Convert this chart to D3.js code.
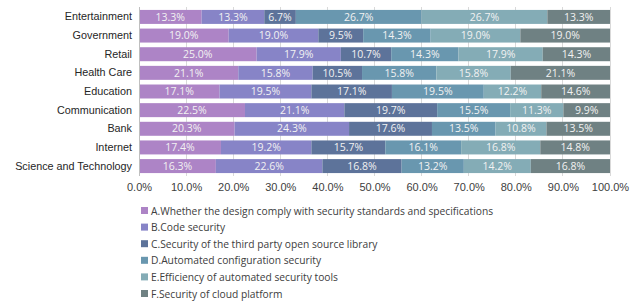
<!DOCTYPE html>
<html><head><meta charset="utf-8">
<script src="https://cdn.jsdelivr.net/npm/d3@7"></script>
<style>body{margin:0;background:#fff}svg{display:block;font-family:"Open Sans","Noto Sans",sans-serif}</style>
</head><body><svg id="c" width="635" height="304"></svg>
<script>
const categories = ["Entertainment","Government","Retail","Health Care","Education","Communication","Bank","Internet","Science and Technology"];
const seriesNames = ["A.Whether the design comply with security standards and specifications","B.Code security","C.Security of the third party open source library","D.Automated configuration security","E.Efficiency of automated security tools","F.Security of cloud platform"];
const seriesA = [13.3,19.0,25.0,21.1,17.1,22.5,20.3,17.4,16.3];
const seriesB = [13.3,19.0,17.9,15.8,19.5,21.1,24.3,19.2,22.6];
const seriesC = [6.7,9.5,10.7,10.5,17.1,19.7,17.6,15.7,16.8];
const seriesD = [26.7,14.3,14.3,15.8,19.5,15.5,13.5,16.1,13.2];
const seriesE = [26.7,19.0,17.9,15.8,12.2,11.3,10.8,16.8,14.2];
const seriesF = [13.3,19.0,14.3,21.1,14.6,9.9,13.5,14.8,16.8];
const tickValues = [0,0.1,0.2,0.3,0.4,0.5,0.6,0.7,0.8,0.9,1.0];
const colors = ["#ad84c6","#8784c7","#5d739a","#6997af","#84acb6","#6f8183"];

const allSeries = [seriesA,seriesB,seriesC,seriesD,seriesE,seriesF];
const keys = ["A","B","C","D","E","F"];
const rows = categories.map((c,i)=>{const o={cat:c};keys.forEach((k,j)=>o[k]=allSeries[j][i]);return o;});
const stacked = d3.stack().keys(keys).offset(d3.stackOffsetExpand)(rows);

const svg = d3.select("#c");
const x = d3.scaleLinear().domain([0,1]).range([139,610]);
const y = d3.scaleBand().domain(categories).range([7.6,175.4]).paddingInner(0.25).paddingOuter(0.125);

svg.append("g").selectAll("line").data(tickValues.slice(1)).join("line")
  .attr("x1",d=>x(d)).attr("x2",d=>x(d)).attr("y1",7).attr("y2",176)
  .attr("stroke","#d9d9d9").attr("stroke-width",1).attr("shape-rendering","crispEdges");

const g = svg.append("g");
stacked.forEach((s,si)=>{
  g.append("g").attr("fill",colors[si]).selectAll("rect").data(s).join("rect")
    .attr("x",d=>x(d[0])).attr("width",d=>x(d[1])-x(d[0]))
    .attr("y",d=>y(d.data.cat)).attr("height",y.bandwidth());
  g.append("g").selectAll("text").data(s).join("text")
    .attr("x",d=>(x(d[0])+x(d[1]))/2).attr("y",d=>y(d.data.cat)+y.bandwidth()/2)
    .attr("dy","0.35em").attr("text-anchor","middle").attr("fill","#f2f2f2")
    .attr("font-size","10.5px")
    .text((d,i)=>allSeries[si][i].toFixed(1)+"%");
});

svg.append("line").attr("x1",139).attr("x2",139).attr("y1",7).attr("y2",176)
  .attr("stroke","#bfbfbf").attr("shape-rendering","crispEdges");

const yAxis = d3.axisLeft(y).tickSize(0).tickPadding(7);
const ya = svg.append("g").attr("transform","translate(139,0)").call(yAxis);
ya.select(".domain").remove();
ya.selectAll("text").attr("font-size","10.8px").attr("fill","#262626").attr("font-family",null);

const xAxis = d3.axisBottom(x).tickValues(tickValues).tickSize(0).tickPadding(0).tickFormat(d3.format(".1%"));
const xa = svg.append("g").attr("transform","translate(0,183)").call(xAxis);
xa.select(".domain").remove();
xa.selectAll("text").attr("font-size","11px").attr("fill","#404040").attr("font-family",null);

const leg = svg.append("g").selectAll("g").data(seriesNames).join("g")
  .attr("transform",(d,i)=>`translate(141,${211+i*16.6})`);
leg.append("rect").attr("x",0).attr("y",-4).attr("width",7).attr("height",7).attr("fill",(d,i)=>colors[i]);
leg.append("text").attr("x",10).attr("y",0).attr("dy","0.35em").attr("font-size","10.25px").attr("fill","#404040").text(d=>d);
</script></body></html>
